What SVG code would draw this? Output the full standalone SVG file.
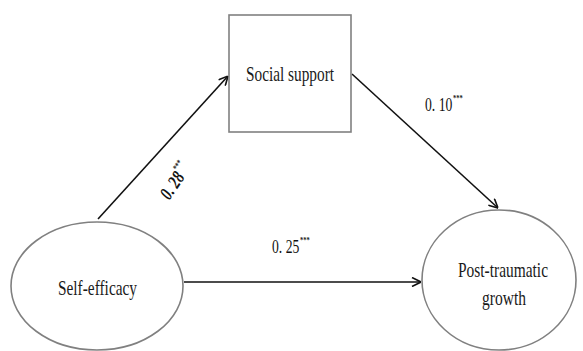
<svg xmlns="http://www.w3.org/2000/svg" width="583" height="351" viewBox="0 0 583 351">
<style>
.node{fill:#fff;stroke:#808080;stroke-width:1.6}
.lbl{font-family:"Liberation Serif","Times New Roman",serif;fill:#1a1a1a}
.conn{stroke:#111;stroke-width:1.6;fill:none;marker-end:url(#arr)}
.coef{font-family:"Liberation Serif","Times New Roman",serif;font-size:19px;fill:#111}
.sup{font-size:9px;font-weight:bold}
</style>
<defs>
<marker id="arr" viewBox="0 0 10 10" refX="10" refY="5" markerWidth="10" markerHeight="10" markerUnits="userSpaceOnUse" orient="auto">
<path d="M1,0.5 L10,5 L1,9.5" fill="none" stroke="#111" stroke-width="1.6"/>
</marker>
</defs>
<rect width="583" height="351" fill="#fff"/>
<g id="connectors">
<line class="conn" x1="98" y1="219" x2="228" y2="76"/>
<line class="conn" x1="352" y1="74" x2="498" y2="208"/>
<line class="conn" x1="184" y1="282" x2="421" y2="282"/>
</g>
<g id="social-support">
<rect class="node" x="229" y="15" width="122" height="117"/>
<text class="lbl" x="246" y="81" font-size="21" textLength="88" lengthAdjust="spacingAndGlyphs">Social support</text>
</g>
<g id="self-efficacy">
<ellipse class="node" cx="97" cy="286" rx="86" ry="64"/>
<text class="lbl" x="58" y="295" font-size="21" textLength="79" lengthAdjust="spacingAndGlyphs">Self-efficacy</text>
</g>
<g id="post-traumatic-growth">
<ellipse class="node" cx="499" cy="280" rx="77" ry="70"/>
<text class="lbl" x="458" y="277" font-size="21" textLength="90" lengthAdjust="spacingAndGlyphs">Post-traumatic</text>
<text class="lbl" x="482" y="305" font-size="21" textLength="44" lengthAdjust="spacingAndGlyphs">growth</text>
</g>
<g id="labels">
<g transform="translate(425,111) scale(0.72,1)">
<text class="coef" x="0" y="0">0. 10<tspan class="sup" dy="-10" dx="1">***</tspan></text>
</g>
<g transform="translate(272,253) scale(0.72,1)">
<text class="coef" x="0" y="0">0. 25<tspan class="sup" dy="-10" dx="1">***</tspan></text>
</g>
<g transform="translate(176,180) rotate(-56) scale(0.75,1)">
<text class="coef" x="-28" y="6" font-style="italic" font-weight="bold">0. 28<tspan class="sup" font-style="normal" dy="-10" dx="1">***</tspan></text>
</g>
</g>
</svg>
